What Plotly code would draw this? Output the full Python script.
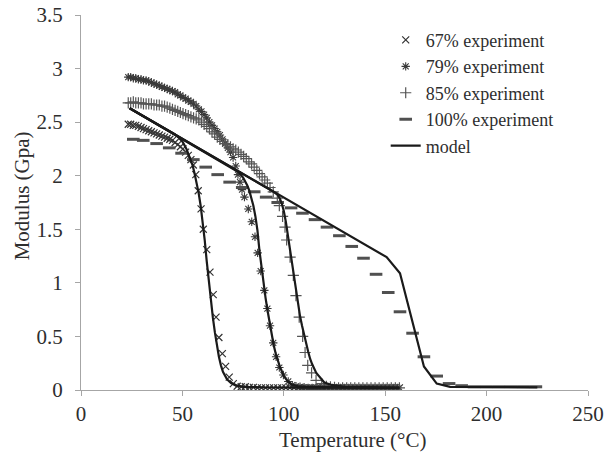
import plotly.graph_objects as go

# ---------------- data ----------------
# 67% experiment
t67 = [23.3, 24.5, 25.8, 27.0, 28.3, 29.6, 30.8, 32.1, 33.4, 34.7,
       36.0, 37.3, 38.6, 39.9, 41.2, 42.5, 43.8, 45.1, 46.4, 47.7,
       49.0, 50.3, 51.6, 52.9, 54.2, 55.4, 56.6, 57.8,
       59.2, 60.3, 62.0, 63.6, 65.2, 66.6, 68.0, 69.7, 71.3, 73.1, 75.1,
       77, 79, 81, 83, 85, 87, 89, 91, 93, 95,
       97, 99, 101, 103, 105, 107, 109, 111, 113, 115,
       117, 119, 121, 123, 125, 127, 129, 131, 133, 135,
       137, 139, 141, 143, 145, 147, 149, 151, 153, 155, 157]
m67 = [2.48, 2.48, 2.47, 2.47, 2.46, 2.45, 2.44, 2.43, 2.42, 2.41,
       2.40, 2.39, 2.38, 2.37, 2.36, 2.35, 2.34, 2.33, 2.31, 2.29,
       2.27, 2.25, 2.22, 2.19, 2.15, 2.10, 2.01, 1.86,
       1.69, 1.50, 1.31, 1.10, 0.89, 0.68, 0.49, 0.34, 0.22, 0.12, 0.06,
       0.035, 0.03, 0.03, 0.025, 0.025, 0.02, 0.02, 0.02, 0.02, 0.02,
       0.02, 0.02, 0.02, 0.02, 0.02, 0.02, 0.02, 0.02, 0.02, 0.02,
       0.02, 0.02, 0.02, 0.02, 0.02, 0.02, 0.02, 0.02, 0.02, 0.02,
       0.02, 0.02, 0.02, 0.02, 0.02, 0.02, 0.02, 0.02, 0.02, 0.02, 0.02]

# 79% experiment
t79 = [23.3, 24.5, 25.8, 27.0, 28.3, 29.6, 30.8, 32.1, 33.4, 34.7,
       36.0, 37.3, 38.6, 39.9, 41.2, 42.5, 43.8, 45.1, 46.4, 47.7,
       49.0, 50.3, 51.6, 52.9, 54.2, 55.5, 56.8, 58.1, 59.4, 60.7,
       62.0, 63.3, 64.6, 65.9, 67.2, 68.5, 69.8, 71.1, 72.4, 73.7,
       75.0, 76.3, 77.4, 78.4, 79.4, 80.6, 82.5, 84.2, 85.8, 87.1,
       88.6, 90.4, 91.9, 93.2, 94.8, 96.2, 97.8, 99.8, 102.2, 104.2,
       106, 108, 110, 112, 114, 116, 118, 120, 122, 124,
       126, 128, 130, 132, 134, 136, 138, 140, 142, 144,
       146, 148, 150, 152, 154, 156]
m79 = [2.92, 2.92, 2.91, 2.91, 2.90, 2.90, 2.89, 2.89, 2.88, 2.87,
       2.86, 2.85, 2.84, 2.83, 2.82, 2.81, 2.80, 2.79, 2.78, 2.76,
       2.75, 2.73, 2.72, 2.70, 2.69, 2.67, 2.65, 2.62, 2.60, 2.57,
       2.54, 2.50, 2.47, 2.44, 2.41, 2.38, 2.34, 2.30, 2.26, 2.22,
       2.17, 2.09, 2.01, 1.94, 1.87, 1.80, 1.69, 1.57, 1.43, 1.28,
       1.11, 0.93, 0.76, 0.60, 0.44, 0.31, 0.21, 0.14, 0.08, 0.045,
       0.035, 0.03, 0.025, 0.02, 0.02, 0.02, 0.02, 0.02, 0.02, 0.02,
       0.02, 0.02, 0.02, 0.02, 0.02, 0.02, 0.02, 0.02, 0.02, 0.02,
       0.02, 0.02, 0.02, 0.02, 0.02, 0.02]

# 85% experiment
t85 = [23.3, 24.5, 25.8, 27.0, 28.3, 29.6, 30.8, 32.1, 33.4, 34.7,
       36.0, 37.3, 38.6, 39.9, 41.2, 42.5, 43.8, 45.1, 46.4, 47.7,
       49.0, 50.3, 51.6, 52.9, 54.2, 55.5, 56.8, 58.1, 59.4, 60.7,
       62.0, 63.3, 64.6, 65.9, 67.2, 68.5, 69.8, 71.1, 72.4, 73.7,
       75.0, 76.3, 77.6, 78.9, 80.2, 81.5, 82.8, 84.1, 85.4, 86.7,
       88.0, 89.3, 90.6, 91.9, 93.2, 94.8, 96.8, 97.8, 99.4, 100.6,
       101.4, 103.1, 104.7, 106.0, 107.6, 109.3, 110.5, 111.8, 113.7, 115.9,
       118.7, 121.0,
       123, 125, 127, 129, 131, 133, 135, 137, 139,
       141, 143, 145, 147, 149, 151, 153, 155, 157]
m85 = [2.68, 2.68, 2.69, 2.68, 2.68, 2.68, 2.67, 2.67, 2.67, 2.67,
       2.66, 2.66, 2.66, 2.65, 2.65, 2.64, 2.63, 2.62, 2.61, 2.60,
       2.59, 2.58, 2.57, 2.56, 2.55, 2.54, 2.53, 2.52, 2.50, 2.48,
       2.46, 2.44, 2.41, 2.39, 2.36, 2.34, 2.32, 2.30, 2.29, 2.27,
       2.25, 2.24, 2.22, 2.20, 2.18, 2.16, 2.13, 2.11, 2.08, 2.05,
       2.02, 1.99, 1.96, 1.93, 1.89, 1.85, 1.79, 1.72, 1.62, 1.52,
       1.40, 1.24, 1.07, 0.88, 0.68, 0.50, 0.35, 0.23, 0.16, 0.09,
       0.06, 0.035,
       0.03, 0.025, 0.02, 0.02, 0.02, 0.02, 0.02, 0.02, 0.02,
       0.02, 0.02, 0.02, 0.02, 0.02, 0.02, 0.02, 0.02, 0.02]

# 100% experiment
t100 = [25.8, 30.7, 37.3, 43.5, 49.6, 55.4, 61.5, 67.4, 73.3, 79.5,
        85.4, 91.3, 97.0, 103.6, 109.2, 115.4, 121.3, 127.4, 133.5, 139.3,
        145.5, 151.5, 157.3, 163.5, 169.1, 175.4, 181.5, 187.7, 193.8, 199.9,
        206.0, 212.1, 218.2, 224.3]
m100 = [2.34, 2.33, 2.30, 2.26, 2.21, 2.15, 2.08, 2.01, 1.94, 1.89,
        1.85, 1.80, 1.75, 1.70, 1.65, 1.59, 1.52, 1.44, 1.34, 1.23,
        1.08, 0.91, 0.73, 0.53, 0.31, 0.13, 0.06, 0.04, 0.03, 0.03,
        0.03, 0.03, 0.03, 0.03]

# model curves
mt67 = [24, 46, 48, 50, 52, 54, 55, 56, 57, 58, 59, 60, 61, 62, 63, 64,
        65, 66, 67, 68, 69, 70, 72, 74, 76, 80, 90, 157]
mv67 = [2.63, 2.39, 2.36, 2.32, 2.25, 2.16, 2.10, 2.02, 1.94, 1.84, 1.72,
        1.57, 1.40, 1.20, 1.01, 0.84, 0.68, 0.54, 0.42, 0.31, 0.23, 0.17,
        0.10, 0.065, 0.045, 0.03, 0.025, 0.02]
mt79 = [24, 76, 78, 80, 82, 83, 84, 85, 86, 87, 88, 89, 90, 91, 92, 93,
        94, 95, 96, 97, 98, 100, 102, 104, 107, 110, 157]
mv79 = [2.63, 2.06, 2.03, 1.98, 1.91, 1.86, 1.80, 1.72, 1.62, 1.49, 1.30,
        1.14, 1.00, 0.86, 0.74, 0.62, 0.51, 0.42, 0.34, 0.27, 0.22, 0.13,
        0.08, 0.05, 0.035, 0.03, 0.02]
mt85 = [24, 90, 95, 97, 98, 99, 100, 101, 102, 103, 104, 105, 106, 107,
        108, 109, 110, 111, 112, 113, 114, 116, 118, 120, 124, 130, 157]
mv85 = [2.63, 1.91, 1.85, 1.82, 1.79, 1.74, 1.67, 1.57, 1.44, 1.31, 1.18,
        1.05, 0.92, 0.80, 0.69, 0.60, 0.51, 0.43, 0.36, 0.29, 0.24, 0.16,
        0.11, 0.07, 0.045, 0.03, 0.02]
mt100 = [24, 150.7, 157.3, 169.1, 175.4, 182, 225]
mv100 = [2.63, 1.24, 1.09, 0.22, 0.06, 0.03, 0.025]

x_ticks = [0, 50, 100, 150, 200, 250]
y_ticks = [0, 0.5, 1, 1.5, 2, 2.5, 3, 3.5]
y_tick_text = ["0", "0.5", "1", "1.5", "2", "2.5", "3", "3.5"]

# ---------------- figure ----------------
FONT = "Liberation Serif"
TXT = "#2e2e2e"
fig = go.Figure()

fig.add_trace(go.Scatter(
    x=t67, y=m67, mode="markers", name="67% experiment",
    marker=dict(symbol="x-thin-open", size=7, line=dict(width=1.2, color="#333333"), color="#333333")))
fig.add_trace(go.Scatter(
    x=t79, y=m79, mode="markers", name="79% experiment",
    marker=dict(symbol="asterisk-open", size=7, line=dict(width=1.1, color="#3a3a3a"), color="#3a3a3a")))
fig.add_trace(go.Scatter(
    x=t85, y=m85, mode="markers", name="85% experiment",
    marker=dict(symbol="cross-thin-open", size=8, line=dict(width=1.2, color="#555555"), color="#555555")))
fig.add_trace(go.Scatter(
    x=t100, y=m100, mode="markers", name="100% experiment",
    marker=dict(symbol="line-ew-open", size=9, line=dict(width=3, color="#505050"), color="#505050")))

for i, (mx, my) in enumerate([(mt67, mv67), (mt79, mv79), (mt85, mv85), (mt100, mv100)]):
    fig.add_trace(go.Scatter(
        x=mx, y=my, mode="lines", name="model", legendgroup="model",
        showlegend=(i == 0), line=dict(color="#1a1a1a", width=2.2)))

axis_common = dict(
    showline=True, linecolor="#a6a6a6", linewidth=1,
    ticks="outside", tickcolor="#a6a6a6", ticklen=5, tickwidth=1,
    showgrid=False, zeroline=False, automargin=False,
    tickfont=dict(family=FONT, size=21, color=TXT),
)

fig.update_layout(
    template="none",
    width=606, height=452,
    margin=dict(l=81, r=18, t=15, b=62, autoexpand=False),
    paper_bgcolor="white", plot_bgcolor="white",
    font=dict(family=FONT, size=21, color=TXT),
    xaxis=dict(range=[0, 250], tickvals=x_ticks, **axis_common),
    yaxis=dict(range=[0, 3.5], tickvals=y_ticks, ticktext=y_tick_text,
               ticklabelstandoff=8, **axis_common),
    legend=dict(x=0.601, y=0.982, xanchor="left", yanchor="top",
                bgcolor="rgba(0,0,0,0)", font=dict(family=FONT, size=18, color=TXT),
                tracegroupgap=0, itemwidth=30, borderwidth=0),
    showlegend=True,
    annotations=[
        dict(text="Temperature (°C)", xref="paper", yref="paper",
             x=0.536, y=-0.133, xanchor="center", yanchor="middle",
             showarrow=False, font=dict(family=FONT, size=21, color=TXT)),
        dict(text="Modulus (Gpa)", xref="paper", yref="paper",
             x=-0.116, y=0.517, xanchor="center", yanchor="middle", textangle=-90,
             showarrow=False, font=dict(family=FONT, size=21, color=TXT)),
    ],
)

fig.write_html("out.html", config={"displayModeBar": False},
               post_script="document.body.style.margin='0';document.body.style.padding='0';")
